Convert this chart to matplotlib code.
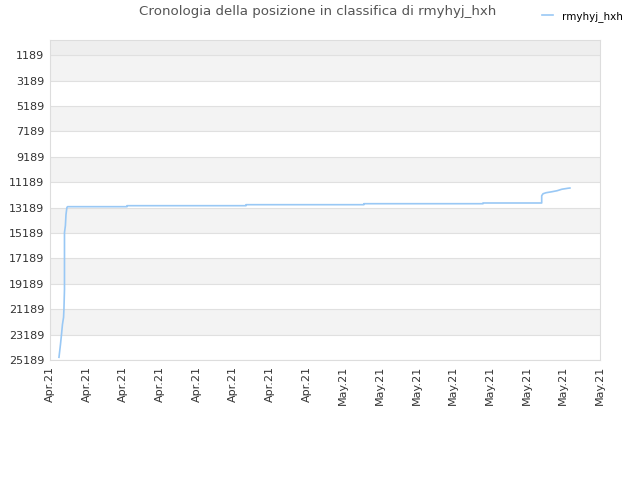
import numpy as np
import matplotlib.pyplot as plt

# rank history (x in tick units, rank value)
days = [0.245, 0.286, 0.314, 0.34, 0.37, 0.38, 0.395, 0.395, 0.42, 0.436, 0.46, 0.477,
        2.10, 2.10, 5.345, 5.345, 8.56, 8.56, 11.81, 11.81, 13.41, 13.41, 13.447,
        13.53, 13.69, 13.83, 13.96, 14.13, 14.18]
rank = [24975, 23954, 23170, 22384, 21830, 21200, 19640, 15160, 14612, 13750, 13200, 13121,
        13121, 13043, 13043, 12964, 12964, 12886, 12886, 12831, 12831, 12258, 12101,
        12022, 11944, 11865, 11747, 11669, 11652]

x_labels = ['Apr.21'] * 8 + ['May.21'] * 8
y_ticks = np.arange(1189, 25190, 2000)

fig = plt.figure(figsize=(6.4, 4.8), dpi=100)
ax = fig.add_axes([50 / 640, 120 / 480, 550 / 640, 320 / 480])

ymin, ymax = 1, 25189
ax.set_ylim(ymax, ymin)
ax.set_xlim(0, 15)

# alternating bands
ax.axhspan(ymin, y_ticks[0], color='#eeeeee', zorder=0, lw=0)
for i in range(len(y_ticks) - 1):
    c = '#f3f3f3' if i % 2 == 0 else 'white'
    ax.axhspan(y_ticks[i], y_ticks[i + 1], color=c, zorder=0, lw=0)
for yt in y_ticks:
    ax.axhline(yt, color='#e0e0e0', lw=0.8, zorder=1)

ax.plot(days, rank, color='#99c8f5', lw=1.2, label='rmyhyj_hxh', zorder=3)

ax.set_yticks(y_ticks)
ax.set_yticklabels([str(v) for v in y_ticks], fontsize=8, color='#333333')
ax.set_xticks(range(16))
ax.set_xticklabels(x_labels, rotation=90, fontsize=8, color='#333333')
ax.tick_params(length=0, pad=4)

for s in ax.spines.values():
    s.set_color('#dddddd')

fig.text(0.497, 0.975, 'Cronologia della posizione in classifica di rmyhyj_hxh',
         ha='center', va='center', fontsize=9.6, color='#555555')
fig.legend(loc='upper right', bbox_to_anchor=(0.988, 0.997), frameon=False, fontsize=7.5,
           handlelength=1.0, handletextpad=0.9)

plt.savefig('out.png')
